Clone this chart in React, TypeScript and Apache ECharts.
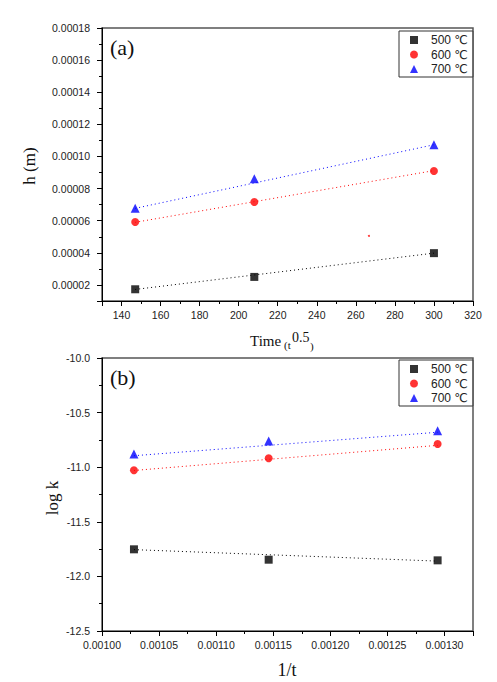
import React, { useEffect, useRef } from "react";
import * as echarts from "echarts";

// ---- Data (a): h vs Time (t^0.5) ----
const timeX = [147, 208, 300];
const h500 = [0.0000173, 0.0000250, 0.0000398];
const h600 = [0.0000592, 0.0000716, 0.0000910];
const h700 = [0.0000677, 0.0000861, 0.0001073];
const fitTimeX = [147, 300];
const fitH500 = [0.0000172, 0.0000398];
const fitH600 = [0.0000590, 0.0000912];
const fitH700 = [0.0000677, 0.0001073];
const strayX = [266.7];
const strayH = [0.0000505];

// ---- Data (b): log k vs 1/t ----
const invT = [0.001028, 0.001146, 0.001294];
const logk500 = [-11.752, -11.847, -11.853];
const logk600 = [-11.028, -10.918, -10.788];
const logk700 = [-10.879, -10.760, -10.666];
const fitInvT = [0.001028, 0.001294];
const fitLogk500 = [-11.755, -11.86];
const fitLogk600 = [-11.03, -10.80];
const fitLogk700 = [-10.895, -10.68];

const seriesNames = ["500 ℃", "600 ℃", "700 ℃"];
const colors = ["#000000", "#ff0000", "#0000ff"];
const symbols = ["rect", "circle", "triangle"];
const symbolSizes = [8, 8, 9];

const pairs = (xs: number[], ys: number[]) => xs.map((x, i) => [x, ys[i]]);

export default function App() {
  const ref = useRef<HTMLDivElement>(null);
  useEffect(() => {
    if (!ref.current) return;
    const chart = echarts.init(ref.current, undefined, { renderer: "svg" });

    const tickFont = {
      fontFamily: "Arial, 'Liberation Sans', sans-serif",
      fontSize: 10.5,
      color: "#222",
    };
    const axisLine = { show: true, lineStyle: { color: "#000", width: 1 } };
    const axisTick = { show: true, inside: false, length: 5, lineStyle: { color: "#000" } };
    const minorTick = { show: true, splitNumber: 2, length: 3, lineStyle: { color: "#000" } };

    const hData = [h500, h600, h700];
    const hFit = [fitH500, fitH600, fitH700];
    const kData = [logk500, logk600, logk700];
    const kFit = [fitLogk500, fitLogk600, fitLogk700];

    const series: any[] = [];
    for (let i = 0; i < 3; i++) {
      series.push({
        name: seriesNames[i] + " fit a",
        type: "line",
        xAxisIndex: 0,
        yAxisIndex: 0,
        data: pairs(fitTimeX, hFit[i]),
        symbol: "none",
        lineStyle: { color: colors[i], width: 1, type: [1, 3] },
        z: 2,
      });
      series.push({
        name: seriesNames[i] + " fit b",
        type: "line",
        xAxisIndex: 1,
        yAxisIndex: 1,
        data: pairs(fitInvT, kFit[i]),
        symbol: "none",
        lineStyle: { color: colors[i], width: 1, type: [1, 3] },
        z: 2,
      });
    }
    for (let i = 0; i < 3; i++) {
      series.push({
        name: seriesNames[i],
        type: "scatter",
        xAxisIndex: 0,
        yAxisIndex: 0,
        data: pairs(timeX, hData[i]),
        symbol: symbols[i],
        symbolSize: symbolSizes[i],
        itemStyle: { color: colors[i] },
        z: 3,
      });
      series.push({
        name: seriesNames[i],
        type: "scatter",
        xAxisIndex: 1,
        yAxisIndex: 1,
        data: pairs(invT, kData[i]),
        symbol: symbols[i],
        symbolSize: symbolSizes[i],
        itemStyle: { color: colors[i] },
        z: 3,
      });
    }
    series.push({
      name: "stray",
      type: "scatter",
      xAxisIndex: 0,
      yAxisIndex: 0,
      data: pairs(strayX, strayH),
      symbol: "circle",
      symbolSize: 2,
      itemStyle: { color: "#ff0000" },
      z: 3,
    });

    const legendCommon = {
      orient: "vertical",
      backgroundColor: "#fff",
      borderColor: "#333",
      borderWidth: 1,
      padding: [3, 5, 2, 11],
      itemWidth: 8,
      itemHeight: 8,
      itemGap: 2.5,
      selectedMode: false,
      textStyle: {
        fontFamily: "Arial, 'Liberation Sans', 'DejaVu Sans', sans-serif",
        fontSize: 12,
        lineHeight: 12,
        color: "#222",
        padding: [0, 0, 0, 8],
      },
      data: seriesNames.map((n, i) => ({ name: n, icon: symbols[i] })),
    };

    const titleFont = "'Times New Roman', 'Liberation Serif', serif";

    chart.setOption({
      animation: false,
      backgroundColor: "#fff",
      grid: [
        { left: 102, top: 28, width: 371, height: 273, show: true, borderColor: "#555", borderWidth: 1.5 },
        { left: 102, top: 358, width: 371, height: 273, show: true, borderColor: "#555", borderWidth: 1.5 },
      ],
      xAxis: [
        {
          type: "value",
          gridIndex: 0,
          min: 130,
          max: 320,
          minInterval: 20,
          maxInterval: 20,
          splitNumber: 9,
          axisLine,
          axisTick,
          minorTick,
          splitLine: { show: false },
          axisLabel: { ...tickFont, margin: 8, showMinLabel: false, formatter: (v: number) => (v % 20 === 0 ? String(v) : "") },
        },
        {
          type: "value",
          gridIndex: 1,
          min: 0.001,
          max: 0.001325,
          interval: 0.00005,
          axisLine,
          axisTick,
          minorTick,
          splitLine: { show: false },
          axisLabel: { ...tickFont, margin: 8, showMaxLabel: false, formatter: (v: number) => v.toFixed(5) },
        },
      ],
      yAxis: [
        {
          type: "value",
          gridIndex: 0,
          min: 0.00001,
          max: 0.00018,
          minInterval: 0.00002,
          maxInterval: 0.00002,
          splitNumber: 8,
          axisLine,
          axisTick,
          minorTick,
          splitLine: { show: false },
          axisLabel: { ...tickFont, margin: 12, showMinLabel: false, formatter: (v: number) => v.toFixed(5) },
        },
        {
          type: "value",
          gridIndex: 1,
          min: -12.5,
          max: -10,
          interval: 0.5,
          axisLine,
          axisTick,
          minorTick,
          splitLine: { show: false },
          axisLabel: { ...tickFont, margin: 12, formatter: (v: number) => v.toFixed(1) },
        },
      ],
      legend: [
        { ...legendCommon, left: 399, top: 31 },
        { ...legendCommon, left: 399, top: 360 },
      ],
      graphic: [
        { type: "text", left: 110, top: 36, style: { text: "(a)", font: `22px ${titleFont}`, fill: "#111" } },
        { type: "text", left: 110, top: 366, style: { text: "(b)", font: `22px ${titleFont}`, fill: "#111" } },
        {
          type: "text", x: 29, y: 166, rotation: Math.PI / 2,
          style: { text: "h (m)", font: `17px ${titleFont}`, fill: "#111", align: "center", verticalAlign: "middle" },
        },
        {
          type: "text", x: 52, y: 498, rotation: Math.PI / 2,
          style: { text: "log k", font: `17px ${titleFont}`, fill: "#111", align: "center", verticalAlign: "middle" },
        },
        { type: "text", x: 250, y: 341, style: { text: "Time", font: `15px ${titleFont}`, fill: "#111", align: "left", verticalAlign: "middle" } },
        { type: "text", x: 284, y: 345, style: { text: "(t", font: `11px ${titleFont}`, fill: "#111", align: "left", verticalAlign: "middle" } },
        { type: "text", x: 292, y: 337, style: { text: "0.5", font: `14px ${titleFont}`, fill: "#111", align: "left", verticalAlign: "middle" } },
        { type: "text", x: 310, y: 346, style: { text: ")", font: `11px ${titleFont}`, fill: "#111", align: "left", verticalAlign: "middle" } },
        { type: "text", x: 287, y: 670, style: { text: "1/t", font: `18px ${titleFont}`, fill: "#111", align: "center", verticalAlign: "middle" } },
      ],
      series,
    });
    return () => chart.dispose();
  }, []);
  return (
    <div
      ref={ref}
      style={{ position: "absolute", left: 0, top: 0, width: 497, height: 682, background: "#fff" }}
    />
  );
}
